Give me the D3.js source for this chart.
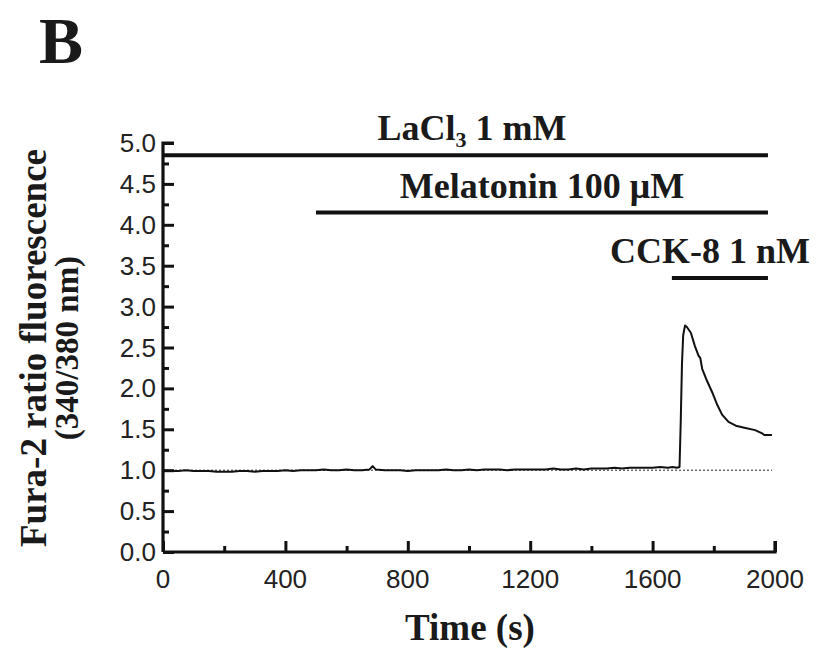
<!DOCTYPE html>
<html>
<head>
<meta charset="utf-8">
<script src="https://cdn.jsdelivr.net/npm/d3@7"></script>
<style>
  body { margin: 0; background: #fff; }
  svg { display: block; }
  .tick-label { font-family: "Liberation Sans", Arial, sans-serif; font-size: 26px; fill: #222; }
  .bold { font-family: "Liberation Serif", "Times New Roman", serif; font-weight: bold; fill: #1a1a1a; }
</style>
</head>
<body>
<svg id="chart" width="822" height="655"></svg>
<script>
// time (s) and Fura-2 ratio
const times = [0, 25, 50, 75, 100, 125, 150, 175, 200, 225, 250, 275, 300, 325, 350, 375,
  400, 425, 450, 475, 500, 525, 550, 575, 600, 625, 650, 675, 685, 695, 725, 750, 775,
  800, 825, 850, 875, 900, 925, 950, 975, 1000, 1025, 1050, 1075, 1100, 1125, 1150, 1175,
  1200, 1225, 1250, 1275, 1300, 1325, 1350, 1375, 1400, 1425, 1450, 1475, 1500, 1525,
  1550, 1575, 1600, 1625, 1650, 1665, 1680, 1688, 1692, 1696, 1700, 1706, 1712, 1725,
  1738, 1750, 1756, 1762, 1778, 1795, 1810, 1827, 1848, 1875, 1900, 1935, 1958, 1965, 1990];
const ratios = [1.00, 0.99, 0.99, 1.00, 0.99, 0.99, 0.99, 0.98, 0.98, 0.98, 0.99, 0.99, 0.98, 0.99, 0.99, 0.99,
  1.00, 0.99, 1.00, 1.00, 1.00, 1.01, 1.00, 1.00, 1.01, 1.00, 1.00, 1.01, 1.05, 1.01, 1.00, 1.00, 1.00,
  0.99, 1.00, 1.00, 1.00, 1.00, 1.01, 1.00, 1.00, 1.01, 1.00, 1.01, 1.01, 1.01, 1.00, 1.01, 1.01,
  1.01, 1.01, 1.01, 1.02, 1.01, 1.01, 1.02, 1.01, 1.02, 1.02, 1.02, 1.03, 1.02, 1.03,
  1.03, 1.03, 1.03, 1.04, 1.03, 1.04, 1.03, 1.04, 1.60, 2.30, 2.65, 2.77, 2.75, 2.68,
  2.52, 2.40, 2.37, 2.24, 2.09, 1.95, 1.81, 1.68, 1.59, 1.54, 1.52, 1.49, 1.45, 1.43, 1.43];

// treatment bars: label, start, end, level
const treatments = ["LaCl3 1 mM", "Melatonin 100 μM", "CCK-8 1 nM"];
const treatStart = [0, 500, 1663];
const treatEnd = [1977, 1977, 1977];
const treatLevel = [4.85, 4.15, 3.35];

const xTicks = [0, 400, 800, 1200, 1600, 2000];
const yTicks = [0, 0.5, 1, 1.5, 2, 2.5, 3, 3.5, 4, 4.5, 5];

const svg = d3.select("#chart");

const x = d3.scaleLinear().domain([0, 2000]).range([163, 775]);
const y = d3.scaleLinear().domain([0, 5]).range([552, 143]);

// panel letter
svg.append("text").attr("class", "bold")
   .attr("x", 39).attr("y", 63)
   .style("font-size", "66px")
   .text("B");

// baseline reference at 1.0
svg.append("line")
   .attr("x1", x(0)).attr("x2", x(1990))
   .attr("y1", y(1)).attr("y2", y(1))
   .attr("stroke", "#222").attr("stroke-width", 1)
   .attr("stroke-dasharray", "2,2");

// trace
const pts = times.map((t, i) => [t, ratios[i]]);
svg.append("path")
   .datum(pts)
   .attr("fill", "none")
   .attr("stroke", "#111")
   .attr("stroke-width", 2)
   .attr("stroke-linejoin", "round")
   .attr("d", d3.line().x(d => x(d[0])).y(d => y(d[1])));

// axes (ticks point inward)
const xAxis = svg.append("g")
   .attr("transform", `translate(0,${y(0)})`)
   .call(d3.axisBottom(x).tickValues(d3.range(0, 2001, 200)).tickSize(-6).tickFormat(""));
xAxis.selectAll(".tick line")
   .attr("y2", d => d % 400 === 0 ? -11 : -6);

const yAxis = svg.append("g")
   .attr("transform", `translate(${x(0)},0)`)
   .call(d3.axisLeft(y).tickValues(d3.range(0, 5.01, 0.25)).tickSize(-6).tickFormat(""));
yAxis.selectAll(".tick line")
   .attr("x2", d => Math.abs(d * 2 - Math.round(d * 2)) < 1e-6 ? 11 : 6);

[xAxis, yAxis].forEach(g => {
   g.select(".domain").attr("stroke", "#111").attr("stroke-width", 3.2);
   g.selectAll(".tick line").attr("stroke", "#111").attr("stroke-width", 3);
});
// the d3 domain path has outer tick caps; remove them
xAxis.select(".domain").attr("d", `M${x(0)},0H${x(2000)}V-11`);
yAxis.select(".domain").attr("d", `M0,${y(0)}V${y(5)}H11`);

// tick labels
svg.append("g").selectAll("text")
   .data(xTicks).join("text")
   .attr("class", "tick-label")
   .attr("x", d => x(d)).attr("y", 588)
   .attr("text-anchor", "middle")
   .text(d => d);

svg.append("g").selectAll("text")
   .data(yTicks).join("text")
   .attr("class", "tick-label")
   .attr("x", 156).attr("y", d => y(d) + 9)
   .attr("text-anchor", "end")
   .text(d => d.toFixed(1));

// treatment bars and labels
svg.append("g").selectAll("line")
   .data(treatments).join("line")
   .attr("x1", (d, i) => x(treatStart[i]))
   .attr("x2", (d, i) => x(treatEnd[i]))
   .attr("y1", (d, i) => y(treatLevel[i]))
   .attr("y2", (d, i) => y(treatLevel[i]))
   .attr("stroke", "#111").attr("stroke-width", 4);

const labelPos = [[472, 140], [542, 198], [710, 263]];
const labels = svg.append("g").selectAll("text")
   .data(treatments).join("text")
   .attr("class", "bold")
   .attr("x", (d, i) => labelPos[i][0]).attr("y", (d, i) => labelPos[i][1])
   .attr("text-anchor", "middle")
   .style("font-size", "36px");

labels.each(function (d) {
   const t = d3.select(this);
   if (d.startsWith("LaCl3")) {
      t.append("tspan").text("LaCl");
      t.append("tspan").attr("dy", 7).style("font-size", "22px").text("3");
      t.append("tspan").attr("dy", -7).text(" 1 mM");
   } else {
      t.text(d);
   }
});

// axis titles
svg.append("text").attr("class", "bold")
   .attr("x", 470).attr("y", 640)
   .attr("text-anchor", "middle")
   .style("font-size", "37px")
   .text("Time (s)");

const yTitle = svg.append("text").attr("class", "bold")
   .attr("transform", "translate(0,348) rotate(-90)")
   .attr("text-anchor", "middle")
   .style("font-size", "37px");
yTitle.append("tspan").attr("x", 0).attr("y", 46).text("Fura-2 ratio fluorescence");
yTitle.append("tspan").attr("x", 0).attr("y", 78).style("font-size", "33px").text("(340/380 nm)");
</script>
</body>
</html>
